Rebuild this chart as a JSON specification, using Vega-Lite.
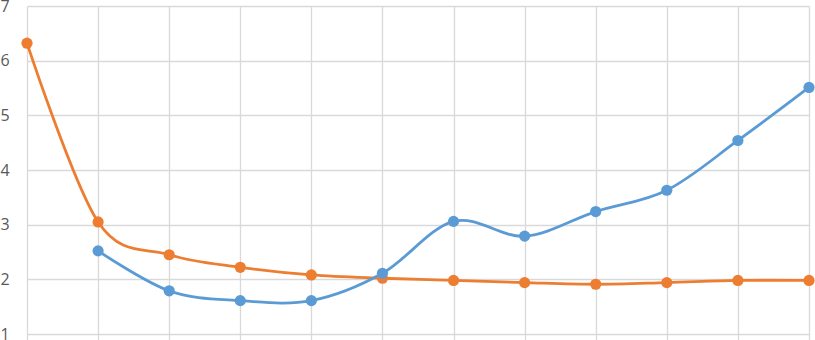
{
  "$schema": "https://vega.github.io/schema/vega-lite/v6.json",
  "width": 782,
  "height": 328,
  "autosize": {"type": "none"},
  "padding": {"left": 27, "top": 6, "right": 6, "bottom": 6},
  "background": "white",
  "config": {"view": {"stroke": null}},
  "data": {
    "values": [
      {"x": 1, "series": "B", "value": 6.32},
      {"x": 2, "series": "B", "value": 3.05},
      {"x": 3, "series": "B", "value": 2.45},
      {"x": 4, "series": "B", "value": 2.22},
      {"x": 5, "series": "B", "value": 2.08},
      {"x": 6, "series": "B", "value": 2.02},
      {"x": 7, "series": "B", "value": 1.98},
      {"x": 8, "series": "B", "value": 1.94},
      {"x": 9, "series": "B", "value": 1.91},
      {"x": 10, "series": "B", "value": 1.94},
      {"x": 11, "series": "B", "value": 1.98},
      {"x": 12, "series": "B", "value": 1.98},
      {"x": 2, "series": "A", "value": 2.52},
      {"x": 3, "series": "A", "value": 1.79},
      {"x": 4, "series": "A", "value": 1.61},
      {"x": 5, "series": "A", "value": 1.61},
      {"x": 6, "series": "A", "value": 2.11},
      {"x": 7, "series": "A", "value": 3.06},
      {"x": 8, "series": "A", "value": 2.79},
      {"x": 9, "series": "A", "value": 3.24},
      {"x": 10, "series": "A", "value": 3.63},
      {"x": 11, "series": "A", "value": 4.54},
      {"x": 12, "series": "A", "value": 5.51}
    ]
  },
  "encoding": {
    "x": {
      "field": "x",
      "type": "quantitative",
      "scale": {"domain": [1, 12], "nice": false, "zero": false},
      "axis": {
        "values": [1, 2, 3, 4, 5, 6, 7, 8, 9, 10, 11, 12],
        "labels": false,
        "title": null,
        "domain": false,
        "grid": true,
        "gridColor": "#d9d9d9",
        "gridWidth": 1.3,
        "ticks": true,
        "tickSize": 6,
        "tickColor": "#d9d9d9",
        "tickWidth": 1.3
      }
    },
    "y": {
      "field": "value",
      "type": "quantitative",
      "scale": {"domain": [1, 7], "nice": false, "zero": false},
      "axis": {
        "values": [1, 2, 3, 4, 5, 6, 7],
        "title": null,
        "domain": false,
        "ticks": false,
        "tickSize": 0,
        "grid": true,
        "gridColor": "#d9d9d9",
        "gridWidth": 1.3,
        "labelAlign": "left",
        "labelPadding": 27,
        "labelFlush": false,
        "labelOverlap": false,
        "labelBound": false,
        "labelFont": "Open Sans",
        "labelFontSize": 16,
        "labelColor": "#595959"
      }
    },
    "color": {
      "field": "series",
      "type": "nominal",
      "scale": {"domain": ["A", "B"], "range": ["#5B9BD5", "#ED7D31"]},
      "legend": null
    }
  },
  "layer": [
    {
      "mark": {"type": "line", "interpolate": "cardinal", "strokeWidth": 2.8}
    },
    {
      "mark": {"type": "point", "filled": true, "opacity": 1, "size": 125}
    }
  ]
}
